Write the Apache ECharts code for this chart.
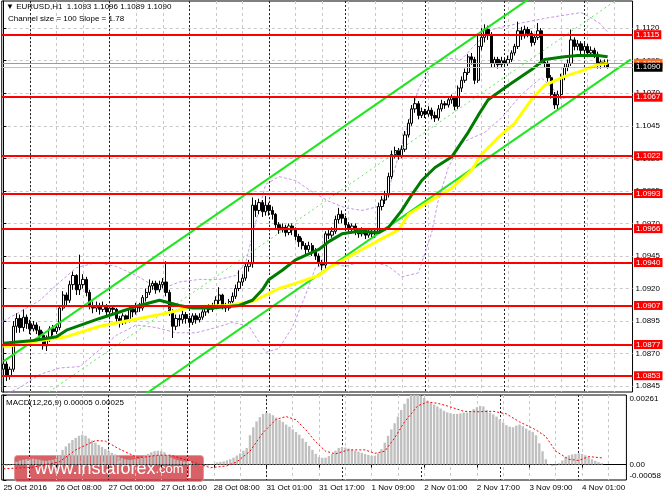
<!DOCTYPE html>
<html><head><meta charset="utf-8">
<script src="https://cdn.jsdelivr.net/npm/echarts@6/dist/echarts.min.js"></script>
<style>html,body{margin:0;padding:0;background:#fff}#c{width:664px;height:498px}</style>
</head><body><div id="c"></div><script>
// ---------- data ----------
const symbolTitle = 'EURUSD,H1';
const channelText = 'Channel size = 100 Slope = 1.78';
const macdName = 'MACD(12,26,9)';
const timeLabels = ['25 Oct 2016','26 Oct 08:00','27 Oct 00:00','27 Oct 16:00','28 Oct 08:00','31 Oct 01:00','31 Oct 17:00','1 Nov 09:00','2 Nov 01:00','2 Nov 17:00','3 Nov 09:00','4 Nov 01:00'];
const timeLabelIdx = [0,16,32,48,64,80,96,112,128,144,160,176];
const gridIdx = [0,8,16,24,32,40,48,56,64,72,80,88,96,104,112,120,128,136,144,152,160,168,176,184];
const daySepIdx = [8,32,56,80,103,127,151,175];
const priceTicks = [1.0845,1.0870,1.0895,1.0920,1.0945,1.0970,1.0995,1.1020,1.1045,1.1070,1.1095,1.1120];
const levels = [1.1115,1.1067,1.1022,1.0993,1.0966,1.0940,1.0907,1.0877,1.0853];
const askPrice = 1.1093;
const bidPrice = 1.1090;
const macdTicks = [-0.00058, 0, 0.00261];

// [open, close, low, high]
const candles = [
[1.0858,1.0862,1.0855,1.0864],[1.0862,1.0853,1.0849,1.0864],[1.0853,1.0858,1.0850,1.0860],[1.0858,1.0891,1.0856,1.0895],
[1.0891,1.0897,1.0886,1.0901],[1.0897,1.0890,1.0886,1.0900],[1.0890,1.0898,1.0887,1.0904],[1.0898,1.0893,1.0889,1.0900],
[1.0893,1.0889,1.0885,1.0896],[1.0889,1.0892,1.0887,1.0895],[1.0892,1.0888,1.0885,1.0894],[1.0888,1.0884,1.0880,1.0891],
[1.0884,1.0876,1.0873,1.0887],[1.0876,1.0881,1.0872,1.0884],[1.0881,1.0889,1.0879,1.0891],[1.0889,1.0887,1.0884,1.0892],
[1.0887,1.0890,1.0885,1.0893],[1.0890,1.0905,1.0888,1.0907],[1.0905,1.0915,1.0903,1.0918],[1.0915,1.0911,1.0907,1.0917],
[1.0911,1.0923,1.0909,1.0926],[1.0923,1.0930,1.0919,1.0933],[1.0930,1.0919,1.0915,1.0931],[1.0919,1.0923,1.0915,1.0946],
[1.0923,1.0927,1.0920,1.0931],[1.0927,1.0917,1.0914,1.0929],[1.0917,1.0907,1.0904,1.0919],[1.0907,1.0905,1.0901,1.0910],
[1.0905,1.0907,1.0902,1.0910],[1.0907,1.0904,1.0900,1.0909],[1.0904,1.0907,1.0902,1.0910],[1.0907,1.0902,1.0899,1.0908],
[1.0902,1.0905,1.0900,1.0907],[1.0905,1.0904,1.0900,1.0907],[1.0904,1.0897,1.0894,1.0905],[1.0897,1.0894,1.0890,1.0899],
[1.0894,1.0899,1.0892,1.0901],[1.0899,1.0896,1.0893,1.0900],[1.0896,1.0904,1.0894,1.0906],[1.0904,1.0902,1.0898,1.0906],
[1.0902,1.0907,1.0900,1.0909],[1.0907,1.0905,1.0902,1.0909],[1.0905,1.0913,1.0903,1.0915],[1.0913,1.0917,1.0910,1.0920],
[1.0917,1.0922,1.0915,1.0927],[1.0922,1.0924,1.0919,1.0926],[1.0924,1.0919,1.0916,1.0926],[1.0919,1.0923,1.0917,1.0926],
[1.0923,1.0925,1.0920,1.0928],[1.0925,1.0917,1.0914,1.0941],[1.0917,1.0902,1.0899,1.0919],[1.0902,1.0891,1.0882,1.0904],
[1.0891,1.0897,1.0888,1.0900],[1.0897,1.0896,1.0891,1.0900],[1.0896,1.0900,1.0893,1.0903],[1.0900,1.0897,1.0893,1.0902],
[1.0897,1.0894,1.0890,1.0899],[1.0894,1.0899,1.0892,1.0901],[1.0899,1.0896,1.0893,1.0901],[1.0896,1.0898,1.0894,1.0901],
[1.0898,1.0902,1.0896,1.0904],[1.0902,1.0905,1.0899,1.0907],[1.0905,1.0904,1.0901,1.0908],[1.0904,1.0907,1.0902,1.0909],
[1.0907,1.0911,1.0905,1.0914],[1.0911,1.0915,1.0908,1.0921],[1.0915,1.0907,1.0904,1.0916],[1.0907,1.0905,1.0902,1.0909],
[1.0905,1.0910,1.0903,1.0912],[1.0910,1.0914,1.0907,1.0917],[1.0914,1.0920,1.0912,1.0923],[1.0920,1.0925,1.0918,1.0934],
[1.0925,1.0928,1.0922,1.0931],[1.0928,1.0937,1.0926,1.0940],[1.0937,1.0939,1.0933,1.0942],[1.0939,1.0984,1.0936,1.0990],
[1.0984,1.0980,1.0975,1.0988],[1.0980,1.0986,1.0977,1.0989],[1.0986,1.0979,1.0975,1.0988],[1.0979,1.0984,1.0976,1.0991],
[1.0984,1.0980,1.0976,1.0986],[1.0980,1.0977,1.0973,1.0983],[1.0977,1.0969,1.0966,1.0978],[1.0969,1.0965,1.0962,1.0971],
[1.0965,1.0967,1.0963,1.0970],[1.0967,1.0963,1.0960,1.0969],[1.0963,1.0968,1.0961,1.0970],[1.0968,1.0965,1.0961,1.0970],
[1.0965,1.0960,1.0957,1.0967],[1.0960,1.0956,1.0952,1.0962],[1.0956,1.0953,1.0950,1.0959],[1.0953,1.0950,1.0946,1.0955],
[1.0950,1.0953,1.0948,1.0956],[1.0953,1.0948,1.0945,1.0955],[1.0948,1.0945,1.0942,1.0951],[1.0945,1.0940,1.0937,1.0947],
[1.0940,1.0938,1.0934,1.0942],[1.0938,1.0962,1.0935,1.0964],[1.0962,1.0961,1.0958,1.0965],[1.0961,1.0964,1.0959,1.0967],
[1.0964,1.0973,1.0962,1.0976],[1.0973,1.0977,1.0970,1.0982],[1.0977,1.0974,1.0970,1.0980],[1.0974,1.0969,1.0966,1.0976],
[1.0969,1.0966,1.0963,1.0971],[1.0966,1.0968,1.0964,1.0970],[1.0968,1.0964,1.0961,1.0970],[1.0964,1.0962,1.0959,1.0966],
[1.0962,1.0965,1.0960,1.0967],[1.0965,1.0961,1.0958,1.0966],[1.0961,1.0963,1.0959,1.0965],[1.0963,1.0962,1.0959,1.0966],
[1.0962,1.0964,1.0959,1.0966],[1.0964,1.0983,1.0962,1.0986],[1.0983,1.0988,1.0980,1.0991],[1.0988,1.0992,1.0985,1.0995],
[1.0992,1.1006,1.0990,1.1009],[1.1006,1.1023,1.1004,1.1026],[1.1023,1.1026,1.1020,1.1029],[1.1026,1.1022,1.1019,1.1028],
[1.1022,1.1027,1.1020,1.1030],[1.1027,1.1038,1.1025,1.1041],[1.1038,1.1047,1.1036,1.1050],[1.1047,1.1058,1.1045,1.1061],
[1.1058,1.1062,1.1055,1.1067],[1.1062,1.1053,1.1050,1.1064],[1.1053,1.1056,1.1051,1.1059],[1.1056,1.1054,1.1051,1.1058],
[1.1054,1.1057,1.1052,1.1060],[1.1057,1.1053,1.1050,1.1059],[1.1053,1.1051,1.1048,1.1056],[1.1051,1.1058,1.1049,1.1061],
[1.1058,1.1062,1.1056,1.1065],[1.1062,1.1061,1.1058,1.1064],[1.1061,1.1065,1.1059,1.1067],[1.1065,1.1067,1.1062,1.1069],
[1.1067,1.1060,1.1057,1.1068],[1.1060,1.1074,1.1058,1.1076],[1.1074,1.1080,1.1071,1.1083],[1.1080,1.1086,1.1078,1.1089],
[1.1086,1.1098,1.1084,1.1100],[1.1098,1.1096,1.1092,1.1101],[1.1096,1.1080,1.1077,1.1098],[1.1080,1.1106,1.1078,1.1116],
[1.1106,1.1113,1.1103,1.1120],[1.1113,1.1119,1.1109,1.1123],[1.1119,1.1115,1.1111,1.1122],[1.1115,1.1093,1.1090,1.1117],
[1.1093,1.1096,1.1090,1.1098],[1.1096,1.1092,1.1089,1.1098],[1.1092,1.1095,1.1090,1.1098],[1.1095,1.1093,1.1090,1.1097],
[1.1093,1.1096,1.1091,1.1099],[1.1096,1.1101,1.1094,1.1103],[1.1101,1.1106,1.1099,1.1108],[1.1106,1.1118,1.1104,1.1125],
[1.1118,1.1114,1.1111,1.1121],[1.1114,1.1119,1.1112,1.1122],[1.1119,1.1116,1.1113,1.1121],[1.1116,1.1109,1.1106,1.1118],
[1.1109,1.1113,1.1107,1.1115],[1.1113,1.1118,1.1111,1.1124],[1.1118,1.1094,1.1092,1.1120],[1.1094,1.1093,1.1090,1.1096],
[1.1093,1.1082,1.1079,1.1095],[1.1082,1.1069,1.1066,1.1084],[1.1069,1.1061,1.1058,1.1071],[1.1061,1.1069,1.1058,1.1072],
[1.1069,1.1083,1.1066,1.1085],[1.1083,1.1090,1.1080,1.1093],[1.1090,1.1093,1.1087,1.1096],[1.1093,1.1111,1.1091,1.1119],
[1.1111,1.1106,1.1103,1.1113],[1.1106,1.1108,1.1103,1.1111],[1.1108,1.1103,1.1100,1.1110],[1.1103,1.1106,1.1101,1.1109],
[1.1106,1.1101,1.1099,1.1108],[1.1101,1.1103,1.1099,1.1106],[1.1103,1.1100,1.1097,1.1105],[1.1100,1.1092,1.1089,1.1102],
[1.1092,1.1094,1.1089,1.1096],[1.1094,1.1093,1.1090,1.1096],[1.1093,1.1090,1.1089,1.1096]
];

// indicator lines read as [bar index, price]
const maGreen = [[0,1.0878],[9,1.0880],[16,1.0883],[19,1.0888],[29,1.0897],[35,1.0902],[41,1.0907],[47,1.0911],[53,1.0907],[57,1.0905],[63,1.0905],[71,1.0907],[75,1.0911],[78,1.0919],[80,1.0927],[84,1.0934],[88,1.0942],[95,1.0950],[98,1.0956],[102,1.0962],[107,1.0964],[113,1.0963],[116,1.0967],[120,1.0980],[123,1.0992],[126,1.1003],[130,1.1013],[135,1.1021],[140,1.1040],[143,1.1053],[146,1.1065],[152,1.1076],[159,1.1088],[163,1.1096],[169,1.1098],[173,1.1099],[179,1.1099],[182,1.1098]];
const maYellow = [[0,1.0875],[9,1.0879],[19,1.0883],[29,1.0891],[39,1.0896],[49,1.0901],[57,1.0906],[67,1.0907],[73,1.0909],[76,1.0911],[79,1.0915],[83,1.0920],[88,1.0924],[95,1.0930],[98,1.0936],[101,1.0940],[108,1.0950],[113,1.0957],[119,1.0965],[122,1.0977],[129,1.0988],[135,1.0997],[141,1.1011],[144,1.1023],[149,1.1036],[154,1.1047],[159,1.1065],[163,1.1076],[169,1.1083],[174,1.1087],[179,1.1092],[182,1.1093]];
const bbUpper = [[0,1.0895],[5,1.0902],[11,1.0911],[17,1.0925],[22,1.0936],[28,1.0940],[34,1.0937],[40,1.0930],[44,1.0924],[49,1.0921],[53,1.0925],[59,1.0927],[65,1.0927],[70,1.0930],[73,1.0940],[76,1.0971],[79,1.1000],[83,1.1006],[88,1.1003],[92,1.0996],[98,1.0987],[103,1.0982],[108,1.0980],[113,1.0983],[116,1.0996],[120,1.1030],[125,1.1073],[129,1.1092],[133,1.1097],[138,1.1096],[142,1.1107],[147,1.1119],[154,1.1123],[164,1.1128],[174,1.1132],[177,1.1128],[180,1.1123],[182,1.1117]];
const bbLower = [[0,1.0838],[5,1.0844],[11,1.0854],[17,1.0859],[23,1.0860],[29,1.0873],[34,1.0884],[40,1.0892],[46,1.0890],[52,1.0886],[58,1.0886],[64,1.0890],[69,1.0894],[74,1.0891],[77,1.0879],[79,1.0871],[83,1.0874],[87,1.0890],[91,1.0915],[94,1.0936],[98,1.0940],[103,1.0937],[107,1.0940],[112,1.0940],[116,1.0937],[120,1.0929],[125,1.0932],[129,1.0963],[131,1.0988],[134,1.1013],[138,1.1032],[145,1.1040],[150,1.1051],[156,1.1069],[162,1.1082],[165,1.1075],[168,1.1066],[172,1.1067],[177,1.1067],[182,1.1068]];
const channelUpper = [[0,1.0864],[158,1.1142]];
const channelMiddle = [[10,1.0834],[186,1.1144]];
const channelLower = [[40,1.0834],[189,1.1096]];

const macdMain = [
-0.00003,-0.00005,-0.00004,0.00002,0.00010,0.00015,0.00018,0.00020,0.00020,0.00022,0.00020,0.00018,0.00015,0.00014,0.00016,0.00018,
0.00022,0.00035,0.00055,0.00068,0.00080,0.00092,0.00100,0.00108,0.00112,0.00108,0.00098,0.00090,0.00082,0.00074,0.00066,0.00058,
0.00050,0.00044,0.00038,0.00030,0.00024,0.00020,0.00018,0.00018,0.00020,0.00022,0.00028,0.00034,0.00040,0.00046,0.00050,0.00052,
0.00050,0.00046,0.00036,0.00026,0.00020,0.00016,0.00014,0.00012,0.00010,0.00006,0.00002,-0.00002,-0.00004,-0.00005,-0.00004,-0.00002,
0.00002,0.00008,0.00010,0.00012,0.00016,0.00020,0.00026,0.00034,0.00042,0.00052,0.00062,0.00110,0.00140,0.00162,0.00178,0.00190,
0.00195,0.00192,0.00185,0.00176,0.00168,0.00160,0.00150,0.00142,0.00132,0.00122,0.00112,0.00098,0.00085,0.00070,0.00055,0.00040,
0.00028,0.00025,0.00026,0.00032,0.00040,0.00052,0.00062,0.00066,0.00064,0.00060,0.00056,0.00052,0.00048,0.00044,0.00040,0.00036,
0.00032,0.00034,0.00042,0.00058,0.00082,0.00108,0.00132,0.00155,0.00180,0.00205,0.00228,0.00248,0.00261,0.00261,0.00261,0.00258,
0.00250,0.00240,0.00232,0.00225,0.00218,0.00210,0.00202,0.00196,0.00192,0.00190,0.00190,0.00192,0.00195,0.00195,0.00200,0.00208,
0.00215,0.00220,0.00218,0.00205,0.00195,0.00188,0.00180,0.00170,0.00158,0.00148,0.00142,0.00140,0.00146,0.00150,0.00144,0.00135,
0.00128,0.00122,0.00110,0.00080,0.00050,0.00020,0.00002,-0.00006,-0.00004,0.00005,0.00015,0.00028,0.00035,0.00038,0.00040,0.00042,
0.00040,0.00035,0.00028,0.00020,0.00014,0.00009,0.00005
];
const macdSignal = [[0,-0.00016],[9,-0.00010],[17,0.00010],[22,0.00055],[28,0.00090],[31,0.00088],[35,0.00060],[41,0.00025],[47,0.00035],[51,0.00035],[57,0.00012],[63,-0.00012],[68,-0.00005],[71,0.00010],[75,0.00050],[79,0.00120],[83,0.00170],[86,0.00180],[89,0.00168],[92,0.00130],[95,0.00085],[98,0.00050],[101,0.00040],[105,0.00055],[110,0.00055],[113,0.00042],[116,0.00050],[119,0.00100],[122,0.00160],[126,0.00220],[129,0.00235],[132,0.00230],[135,0.00220],[140,0.00200],[144,0.00198],[149,0.00200],[153,0.00190],[157,0.00160],[162,0.00130],[165,0.00105],[168,0.00050],[172,0.00020],[175,0.00015],[178,0.00030],[182,0.00025]];

// ---------- build chart ----------
const SLOTS = 190;
const categories = Array.from({length: SLOTS}, (_, i) => {
  const k = timeLabelIdx.indexOf(i);
  return k >= 0 ? timeLabels[k] : '';
});
const FONT = 'Liberation Sans';
const last = candles[candles.length - 1];
const headerText = '▼ ' + symbolTitle + '  ' + [last[0], last[3], last[2], last[1]].map(v => v.toFixed(4)).join(' ');
const macdText = macdName + ' ' + macdMain[macdMain.length - 1].toFixed(5) + ' ' + macdSignal[macdSignal.length - 1][1].toFixed(5);

const G = {left: 1.74, width: 630.8};
const hidden = {axisLine: {show: false}, axisLabel: {show: false}};
function vGrid(gi, idx, style) {
  return Object.assign({type: 'value', gridIndex: gi, min: -0.5, max: 189.5,
    axisTick: {show: false, customValues: idx},
    splitLine: {show: true, lineStyle: style}}, hidden);
}
const grayDash = {color: '#c8c8c8', width: 1, type: [3, 3]};
const daySep = {color: '#222', width: 1, type: [2, 2]};

const levelMarks = levels.map(v => ({yAxis: v, lineStyle: {color: '#ff0000', width: 2, type: 'solid'},
  label: {backgroundColor: '#ff0000', color: '#fff'}}));
levelMarks.push({yAxis: askPrice, lineStyle: {color: '#ff7a3c', width: 1, type: 'solid'}, label: {backgroundColor: '#ff6a20', color: '#fff'}});
levelMarks.push({yAxis: bidPrice, lineStyle: {color: '#c0c0c0', width: 1, type: 'solid'}, label: {backgroundColor: '#000', color: '#fff'}});

const lineBase = {type: 'line', xAxisIndex: 0, yAxisIndex: 0, showSymbol: false, symbol: 'none', silent: true, animation: false};

const option = {
  animation: false,
  backgroundColor: '#fff',
  textStyle: {fontFamily: FONT},
  grid: [
    {left: G.left, width: G.width, top: 1, height: 391, show: true, borderColor: '#000', borderWidth: 1, backgroundColor: '#fff'},
    {left: G.left, width: G.width, top: 395, height: 85, show: true, borderColor: '#000', borderWidth: 1, backgroundColor: '#fff'}
  ],
  xAxis: [
    Object.assign({type: 'category', gridIndex: 0, data: categories, boundaryGap: true, axisTick: {show: false}, splitLine: {show: false}}, hidden),
    vGrid(0, gridIdx, grayDash),
    vGrid(0, daySepIdx, daySep),
    {type: 'category', gridIndex: 1, position: 'bottom', data: categories, boundaryGap: true,
      axisLine: {show: true, lineStyle: {color: '#000', width: 1}},
      axisTick: {show: true, interval: (i, v) => v !== '', alignWithLabel: true, length: 3, lineStyle: {color: '#000'}},
      axisLabel: {interval: (i, v) => v !== '', align: 'left', margin: 4, fontSize: 8, color: '#000', fontFamily: FONT},
      splitLine: {show: false}},
    vGrid(1, gridIdx, grayDash),
    vGrid(1, daySepIdx, daySep)
  ],
  yAxis: [
    {type: 'value', gridIndex: 0, position: 'right', min: 1.08405, max: 1.11409, scale: true,
      axisLine: {show: true, lineStyle: {color: '#000'}},
      axisTick: {show: true, customValues: priceTicks, length: 3, lineStyle: {color: '#000'}},
      axisLabel: {customValues: priceTicks, formatter: v => v.toFixed(4), fontSize: 8, color: '#000', margin: 3, fontFamily: FONT},
      splitLine: {show: true, lineStyle: grayDash}},
    {type: 'value', gridIndex: 1, position: 'right', min: -0.00058, max: 0.00261,
      axisLine: {show: true, lineStyle: {color: '#000'}},
      axisTick: {show: true, customValues: macdTicks, length: 3, lineStyle: {color: '#000'}},
      axisLabel: {customValues: macdTicks, formatter: v => v === 0 ? '0.00' : v.toFixed(5), fontSize: 8, color: '#000', margin: 3, fontFamily: FONT,
        verticalAlignMinLabel: 'bottom', verticalAlignMaxLabel: 'top'},
      splitLine: {show: false}},
    {type: 'value', gridIndex: 1, position: 'right', min: -0.00058, max: 0.00261,
      axisLine: {show: false}, axisLabel: {show: false},
      axisTick: {show: false, customValues: [0]},
      splitLine: {show: true, lineStyle: grayDash}}
  ],
  series: [
    Object.assign({}, lineBase, {name: 'bbUpper', data: bbUpper, z: 2, lineStyle: {color: '#c896e6', width: 1, type: [3, 2]}}),
    Object.assign({}, lineBase, {name: 'bbLower', data: bbLower, z: 2, lineStyle: {color: '#c896e6', width: 1, type: [3, 2]}}),
    {type: 'candlestick', name: 'EURUSD', xAxisIndex: 0, yAxisIndex: 0, data: candles, barWidth: 2.8, z: 3, silent: true,
      itemStyle: {color: '#ffffff', color0: '#000000', borderColor: '#000000', borderColor0: '#000000', borderWidth: 1},
      markLine: {z: 10, silent: true, symbol: ['none', 'none'], animation: false, precision: 5,
        label: {show: true, position: 'end', distance: 1.5, formatter: p => p.value.toFixed(4), fontSize: 8, fontFamily: FONT, padding: [1, 2, 0, 2]},
        data: levelMarks}},
    Object.assign({}, lineBase, {name: 'chMid', data: channelMiddle, z: 4, lineStyle: {color: '#5ee65e', width: 1, type: [2, 3]}}),
    Object.assign({}, lineBase, {name: 'chUp', data: channelUpper, z: 4, lineStyle: {color: '#1ee61e', width: 2}}),
    Object.assign({}, lineBase, {name: 'chLow', data: channelLower, z: 4, lineStyle: {color: '#1ee61e', width: 2}}),
    Object.assign({}, lineBase, {name: 'maYellow', data: maYellow, z: 5, lineStyle: {color: '#ffff00', width: 3}}),
    Object.assign({}, lineBase, {name: 'maGreen', data: maGreen, z: 6, lineStyle: {color: '#007a00', width: 3}}),
    {type: 'bar', name: 'MACD', xAxisIndex: 3, yAxisIndex: 1, data: macdMain, barWidth: 2.4, silent: true, z: 2,
      itemStyle: {color: '#c0c0c0'}},
    {type: 'line', name: 'Signal', xAxisIndex: 3, yAxisIndex: 1, data: macdSignal, showSymbol: false, symbol: 'none', silent: true, z: 3,
      lineStyle: {color: '#ff0000', width: 1, type: [2, 2]}}
  ],
  graphic: [
    {type: 'text', left: 6, top: 3, z: 50, style: {text: headerText, fontSize: 8, fontFamily: FONT, fill: '#000'}},
    {type: 'text', left: 8, top: 15, z: 50, style: {text: channelText, fontSize: 8, fontFamily: FONT, fill: '#000'}},
    {type: 'text', left: 6, top: 399, z: 50, style: {text: macdText, fontSize: 8, fontFamily: FONT, fill: '#000'}},
    {type: 'group', left: 14, top: 455, z: 60, children: [
      {type: 'rect', shape: {x: 0, y: 0, width: 189, height: 26, r: 3}, style: {fill: 'rgba(206,62,68,0.82)', stroke: 'rgba(230,150,150,0.9)', lineWidth: 1}},
      {type: 'text', x: 94.5, y: 13.5, style: {
        text: '{b|[} {w|www.instaforex}{c|.com} {b|]}', align: 'center', verticalAlign: 'middle', fill: '#fff',
        rich: {
          b: {fontSize: 18, fontFamily: FONT, fill: '#fff', fontWeight: 'lighter'},
          w: {fontSize: 18, fontFamily: FONT, fill: '#fff'},
          c: {fontSize: 13, fontFamily: FONT, fill: '#fff'}
        }}}
    ]}
  ]
};
const chart = echarts.init(document.getElementById('c'), null, {renderer: 'canvas'});
chart.setOption(option);
</script></body></html>
